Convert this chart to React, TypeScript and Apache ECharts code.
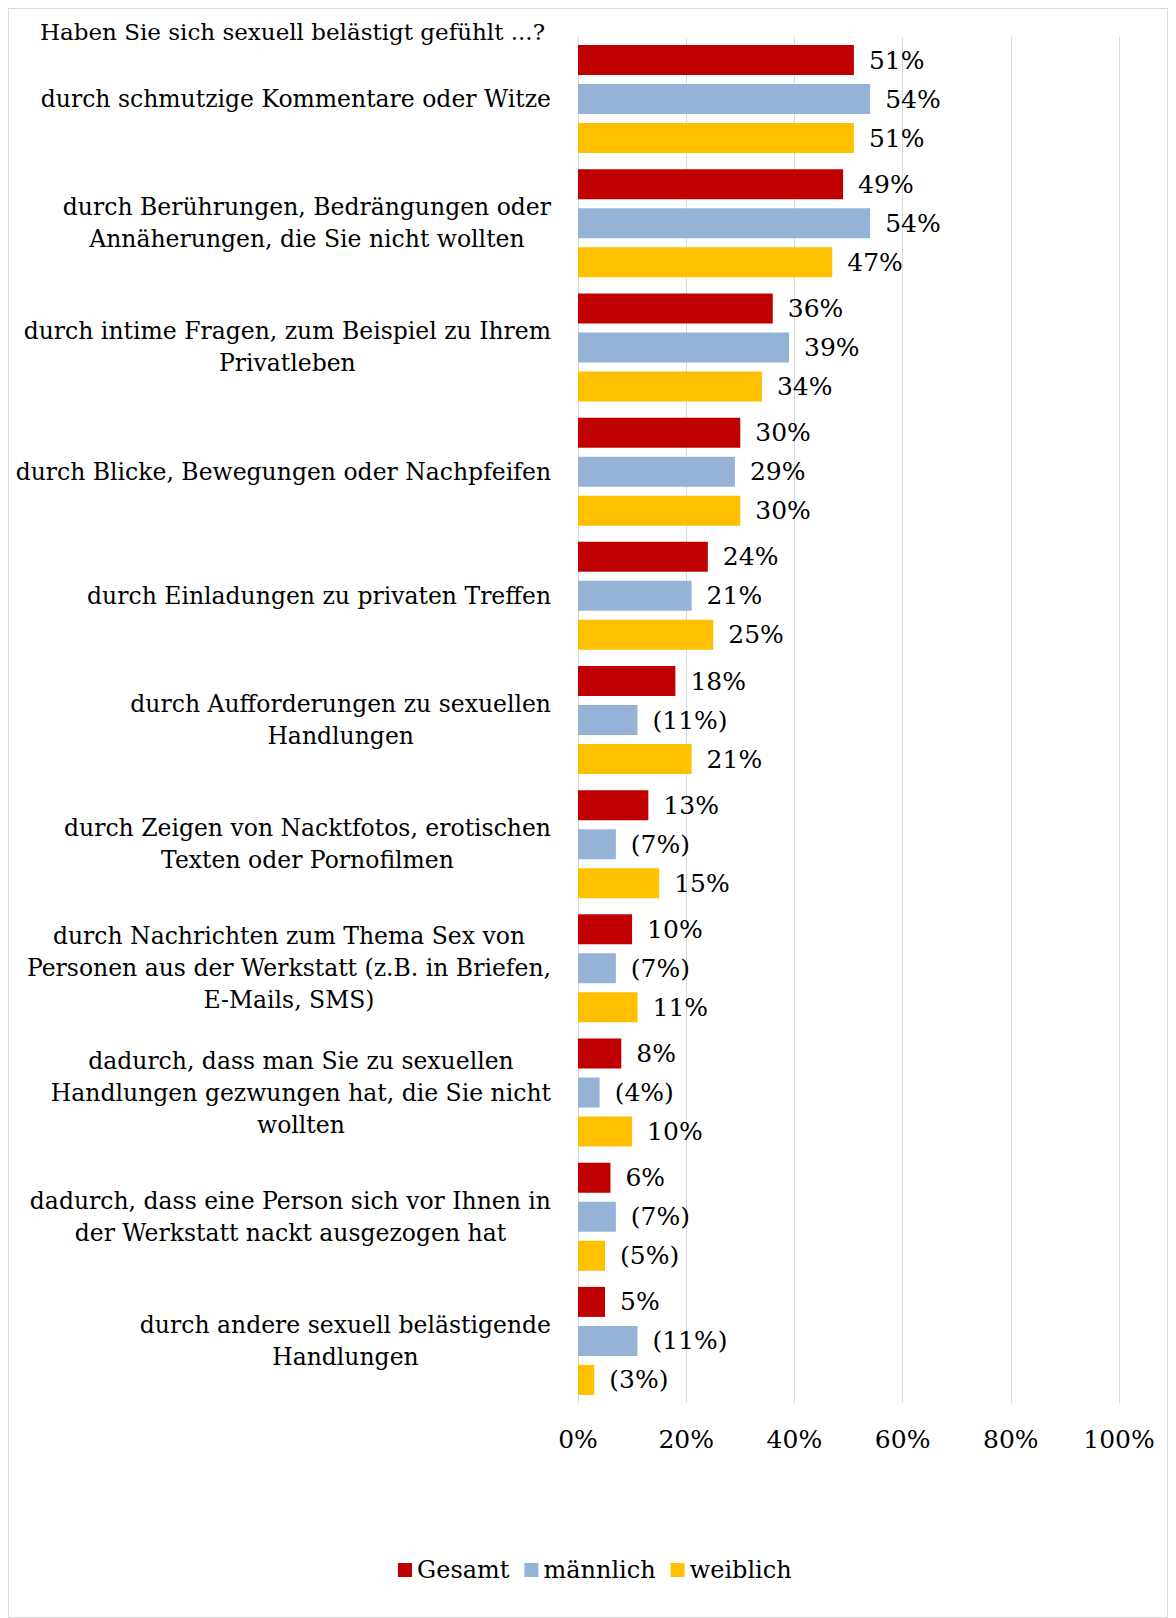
import React, { useEffect, useRef } from "react";
import * as echarts from "echarts";

const titleText = "Haben Sie sich sexuell belästigt gefühlt ...?";
const categories = [
  "durch schmutzige Kommentare oder Witze",
  "durch Berührungen, Bedrängungen oder\nAnnäherungen, die Sie nicht wollten",
  "durch intime Fragen, zum Beispiel zu Ihrem\nPrivatleben",
  "durch Blicke, Bewegungen oder Nachpfeifen",
  "durch Einladungen zu privaten Treffen",
  "durch Aufforderungen zu sexuellen\nHandlungen",
  "durch Zeigen von Nacktfotos, erotischen\nTexten oder Pornofilmen",
  "durch Nachrichten zum Thema Sex von\nPersonen aus der Werkstatt (z.B. in Briefen,\nE-Mails, SMS)",
  "dadurch, dass man Sie zu sexuellen\nHandlungen gezwungen hat, die Sie nicht\nwollten",
  "dadurch, dass eine Person sich vor Ihnen in\nder Werkstatt nackt ausgezogen hat",
  "durch andere sexuell belästigende\nHandlungen",
];
const seriesNames = ["Gesamt", "männlich", "weiblich"];
const gesamt = [51, 49, 36, 30, 24, 18, 13, 10, 8, 6, 5];
const maennlich = [54, 54, 39, 29, 21, 11, 7, 7, 4, 7, 11];
const weiblich = [51, 47, 34, 30, 25, 21, 15, 11, 10, 5, 3];
// values shown in parentheses (small case numbers)
const gesamtParen = [false, false, false, false, false, false, false, false, false, false, false];
const maennlichParen = [false, false, false, false, false, true, true, true, true, true, true];
const weiblichParen = [false, false, false, false, false, false, false, false, false, true, true];
const xMin = 0;
const xMax = 100;
const xInterval = 20;
const colors = ["#C00000", "#95B3D7", "#FFC000"];

const FONT = "'DejaVu Serif', serif";

export default function App() {
  const ref = useRef<HTMLDivElement>(null);
  useEffect(() => {
    if (!ref.current) return;
    const chart = echarts.init(ref.current, undefined, { renderer: "svg" });
    const values = [gesamt, maennlich, weiblich];
    const parens = [gesamtParen, maennlichParen, weiblichParen];
    chart.setOption({
      animation: false,
      textStyle: { fontFamily: FONT, color: "#000" },
      title: {
        text: titleText,
        left: 31,
        top: 8,
        padding: 0,
        textStyle: { fontFamily: FONT, fontSize: 23, fontWeight: "normal", color: "#000", lineHeight: 30 },
      },
      legend: {
        data: seriesNames,
        left: 389,
        top: 1546,
        padding: 0,
        icon: "rect",
        itemWidth: 14,
        itemHeight: 14,
        itemGap: 15,
        textStyle: { fontFamily: FONT, fontSize: 24, color: "#000", lineHeight: 30 },
      },
      grid: { left: 569, right: 48, top: 28, bottom: 214, containLabel: false },
      xAxis: {
        type: "value",
        min: xMin,
        max: xMax,
        interval: xInterval,
        axisLine: { show: false },
        axisTick: { show: false },
        axisLabel: {
          formatter: "{value}%",
          fontFamily: FONT,
          fontSize: 25,
          color: "#000",
          lineHeight: 30,
          margin: 21,
        },
        splitLine: { show: true, lineStyle: { color: "#d9d9d9", width: 1 } },
      },
      yAxis: {
        type: "category",
        inverse: true,
        data: categories,
        axisLine: { show: true, lineStyle: { color: "#d9d9d9", width: 1 } },
        axisTick: { show: false },
        axisLabel: {
          margin: 27,
          align: "right",
          formatter: (v: string) =>
            v
              .split("\n")
              .map((l) => `{c|${l}}`)
              .join("\n"),
          rich: {
            c: { align: "center", fontFamily: FONT, fontSize: 23.5, color: "#000", lineHeight: 32 },
          },
        },
      },
      series: seriesNames.map((name, i) => ({
        name,
        type: "bar",
        data: values[i],
        barWidth: 30,
        barGap: "30%",
        itemStyle: { color: colors[i] },
        label: {
          show: true,
          position: "right",
          distance: 15,
          fontFamily: FONT,
          fontSize: 25,
          color: "#000",
          formatter: (p: any) => (parens[i][p.dataIndex] ? `(${p.value}%)` : `${p.value}%`),
        },
      })),
    });
    return () => chart.dispose();
  }, []);
  return (
    <div style={{ width: 1160, height: 1610, border: "1px solid #d9d9d9", boxSizing: "border-box", background: "#fff" }}>
      <div ref={ref} style={{ width: 1158, height: 1608 }} />
    </div>
  );
}
